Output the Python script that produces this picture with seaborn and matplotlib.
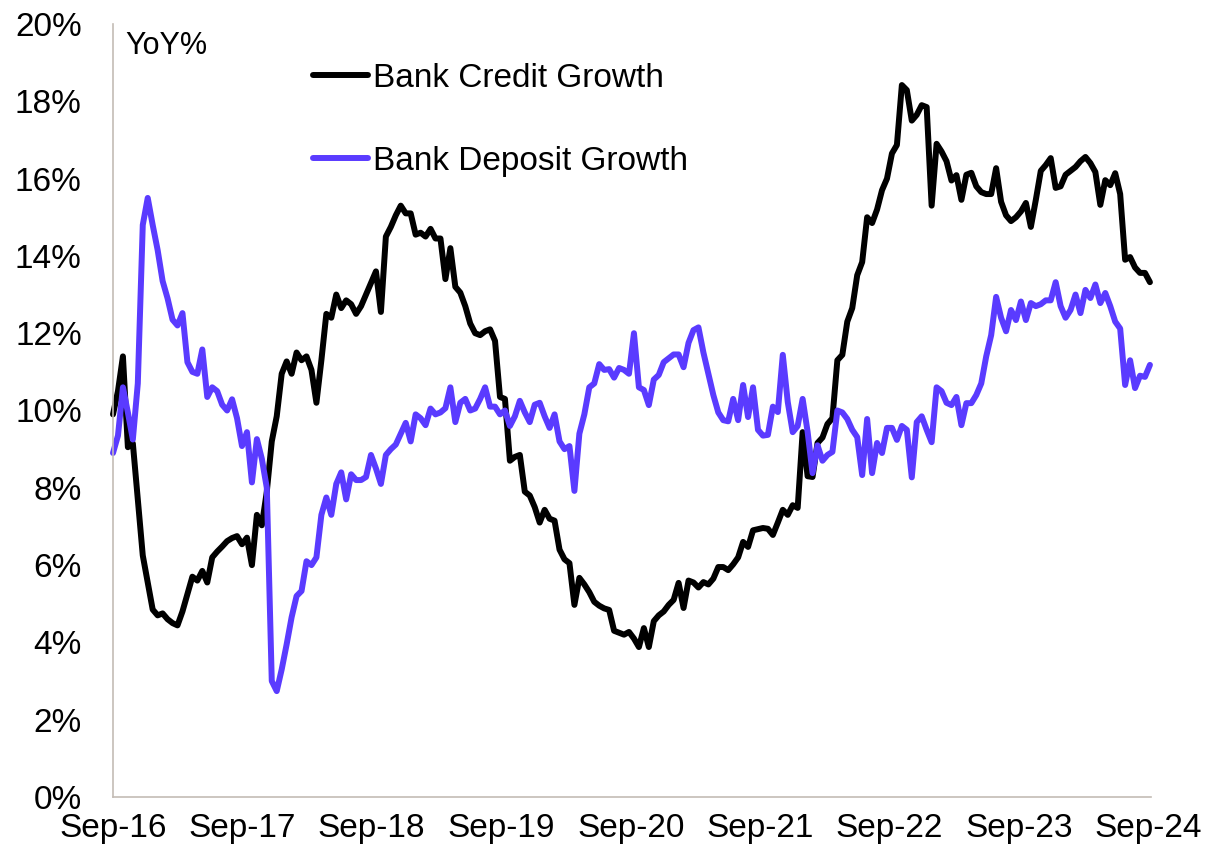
import numpy as np
import pandas as pd
import matplotlib
matplotlib.use("Agg")
import matplotlib.pyplot as plt
from matplotlib.ticker import FuncFormatter, MultipleLocator
import seaborn as sns

# Fortnightly YoY growth (%) of scheduled commercial bank credit and deposits
start_date = "2016-09-09"

credit_growth = [
    9.9, 10.5, 11.4, 9.05, 9.15, 7.7, 6.25, 5.55, 4.85, 4.7,
    4.75, 4.6, 4.5, 4.44, 4.8, 5.25, 5.7, 5.6, 5.85, 5.55,
    6.2, 6.35, 6.48, 6.62, 6.7, 6.75, 6.54, 6.71, 6.0, 7.3,
    7.03, 7.9, 9.2, 9.85, 10.95, 11.27, 10.95, 11.5, 11.3, 11.4,
    11.05, 10.2, 11.3, 12.5, 12.4, 13.0, 12.65, 12.85, 12.75, 12.5,
    12.7, 13.0, 13.3, 13.6, 12.55, 14.5, 14.75, 15.05, 15.3, 15.1,
    15.1, 14.55, 14.6, 14.5, 14.7, 14.45, 14.45, 13.4, 14.2, 13.2,
    13.05, 12.7, 12.25, 12.0, 11.95, 12.05, 12.1, 11.8, 10.35, 10.3,
    8.7, 8.8, 8.85, 7.9, 7.8, 7.5, 7.1, 7.43, 7.2, 7.15,
    6.4, 6.15, 6.05, 4.97, 5.67, 5.5, 5.3, 5.05, 4.95, 4.88,
    4.84, 4.3, 4.25, 4.2, 4.27, 4.1, 3.88, 4.37, 3.88, 4.55,
    4.7, 4.8, 4.97, 5.1, 5.54, 4.89, 5.6, 5.55, 5.42, 5.56,
    5.5, 5.65, 5.95, 5.95, 5.87, 6.02, 6.2, 6.6, 6.47, 6.9,
    6.93, 6.96, 6.94, 6.78, 7.1, 7.43, 7.3, 7.55, 7.48, 9.44,
    8.3, 8.28, 9.16, 9.3, 9.65, 9.8, 11.3, 11.44, 12.3, 12.65,
    13.5, 13.84, 15.0, 14.85, 15.2, 15.7, 16.0, 16.65, 16.87, 18.42,
    18.29, 17.5, 17.65, 17.9, 17.85, 15.3, 16.9, 16.7, 16.45, 15.95,
    16.09, 15.45, 16.1, 16.15, 15.8, 15.65, 15.6, 15.6, 16.27, 15.4,
    15.05, 14.9, 15.0, 15.15, 15.37, 14.75, 15.45, 16.2, 16.35, 16.53,
    15.76, 15.8, 16.1, 16.2, 16.3, 16.45, 16.56, 16.4, 16.17, 15.32,
    15.96, 15.83, 16.14, 15.6, 13.9, 13.97, 13.7, 13.56, 13.56, 13.32,
]

deposit_growth = [
    8.9, 9.35, 10.6, 9.95, 9.25, 10.7, 14.8, 15.5, 14.8, 14.15,
    13.35, 12.9, 12.35, 12.2, 12.52, 11.25, 11.0, 10.95, 11.58, 10.35,
    10.6, 10.5, 10.15, 10.0, 10.29, 9.8, 9.08, 9.44, 8.14, 9.26,
    8.75, 8.0, 3.0, 2.74, 3.3, 3.95, 4.65, 5.2, 5.33, 6.1,
    6.0, 6.2, 7.3, 7.75, 7.3, 8.1, 8.4, 7.7, 8.35, 8.2,
    8.2, 8.28, 8.85, 8.5, 8.1, 8.85, 9.0, 9.12, 9.4, 9.68,
    9.2, 9.9, 9.8, 9.62, 10.05, 9.9, 9.95, 10.06, 10.6, 9.7,
    10.2, 10.3, 10.0, 10.05, 10.3, 10.6, 10.1, 10.1, 9.9, 10.0,
    9.6, 9.85, 10.25, 9.95, 9.7, 10.15, 10.2, 9.85, 9.55, 9.9,
    9.2, 9.0, 9.08, 7.92, 9.4, 9.9, 10.6, 10.7, 11.2, 11.05,
    11.07, 10.85, 11.1, 11.05, 10.95, 12.0, 10.6, 10.53, 10.14, 10.8,
    10.92, 11.25, 11.35, 11.45, 11.45, 11.12, 11.75, 12.08, 12.15, 11.5,
    10.95, 10.4, 9.95, 9.75, 9.72, 10.3, 9.75, 10.66, 9.83, 10.6,
    9.5, 9.35, 9.37, 10.1, 9.96, 11.44, 10.22, 9.44, 9.6, 10.3,
    9.45, 8.38, 9.1, 8.7, 8.85, 8.93, 10.0, 9.95, 9.78, 9.5,
    9.31, 8.33, 9.78, 8.38, 9.16, 8.9, 9.55, 9.55, 9.24, 9.6,
    9.5, 8.27, 9.7, 9.85, 9.5, 9.18, 10.6, 10.5, 10.2, 10.14,
    10.35, 9.62, 10.19, 10.19, 10.4, 10.7, 11.4, 11.95, 12.94, 12.4,
    12.05, 12.6, 12.34, 12.82, 12.34, 12.78, 12.7, 12.75, 12.85, 12.85,
    13.32, 12.7, 12.4, 12.6, 13.0, 12.52, 13.12, 12.91, 13.26, 12.78,
    13.04, 12.7, 12.3, 12.12, 10.66, 11.3, 10.58, 10.9, 10.87, 11.18,
]

series_names = ["Bank Credit Growth", "Bank Deposit Growth"]
series_colors = ["#000000", "#5A3BFF"]
tick_years = list(range(2016, 2025))
tick_labels = [f"Sep-{y % 100:02d}" for y in tick_years]
unit_label = "YoY%"

dates = pd.date_range(start_date, periods=len(credit_growth), freq="14D")
df = pd.DataFrame({
    "date": list(dates) + list(dates),
    "value": credit_growth + deposit_growth,
    "series": [series_names[0]] * len(credit_growth) + [series_names[1]] * len(deposit_growth),
})

sns.set_style("white")
plt.rcParams["font.family"] = ["Liberation Sans", "DejaVu Sans"]
plt.rcParams["text.color"] = "black"

W, H = 1210, 856
fig = plt.figure(figsize=(W / 100, H / 100), dpi=100)
ax = fig.add_axes([113 / W, 1 - 797 / H, (1151 - 113) / W, (797 - 24) / H])

sns.lineplot(
    data=df, x="date", y="value", hue="series", hue_order=series_names,
    palette=dict(zip(series_names, series_colors)), linewidth=4.3,
    sort=False, ax=ax,
)
for ln in ax.lines:
    ln.set_solid_joinstyle("round")
    ln.set_solid_capstyle("round")
    ln.set_clip_on(False)

axis_color = "#C4BCB5"
ax.set_ylim(0, 20)
ax.yaxis.set_major_locator(MultipleLocator(2))
ax.yaxis.set_major_formatter(FuncFormatter(lambda v, _: f"{v:.0f}%"))
ax.set_xlim(dates[0], pd.Timestamp("2024-09-16"))
ax.set_xticks([pd.Timestamp(y, 9, 9) for y in tick_years])
ax.set_xticklabels(tick_labels)
ax.set_xlabel("")
ax.set_ylabel("")

for side in ["top", "right"]:
    ax.spines[side].set_visible(False)
for side in ["left", "bottom"]:
    ax.spines[side].set_color(axis_color)
    ax.spines[side].set_linewidth(1.2)

ax.tick_params(axis="both", direction="out", length=7.5, width=1.0,
               color=axis_color, labelsize=24, labelcolor="black")
ax.tick_params(axis="y", pad=15)
ax.tick_params(axis="x", pad=4)

fig.text(125 / W, 1 - 46 / H, unit_label, fontsize=22, va="center",
         ha="left", color="black")

handles, labels = ax.get_legend_handles_labels()
leg = ax.legend(
    handles, labels, loc="upper left",
    bbox_to_anchor=(313 / W, 1 - 63 / H), bbox_transform=fig.transFigure,
    frameon=False, fontsize=24, handlelength=1.65, handletextpad=0.15,
    labelspacing=1.55, borderpad=0, borderaxespad=0,
)
for t in leg.get_texts():
    t.set_color("black")
for h in leg.get_lines():
    h.set_linewidth(4.3)
    h.set_solid_capstyle("round")

fig.savefig("out.png", dpi=100)
